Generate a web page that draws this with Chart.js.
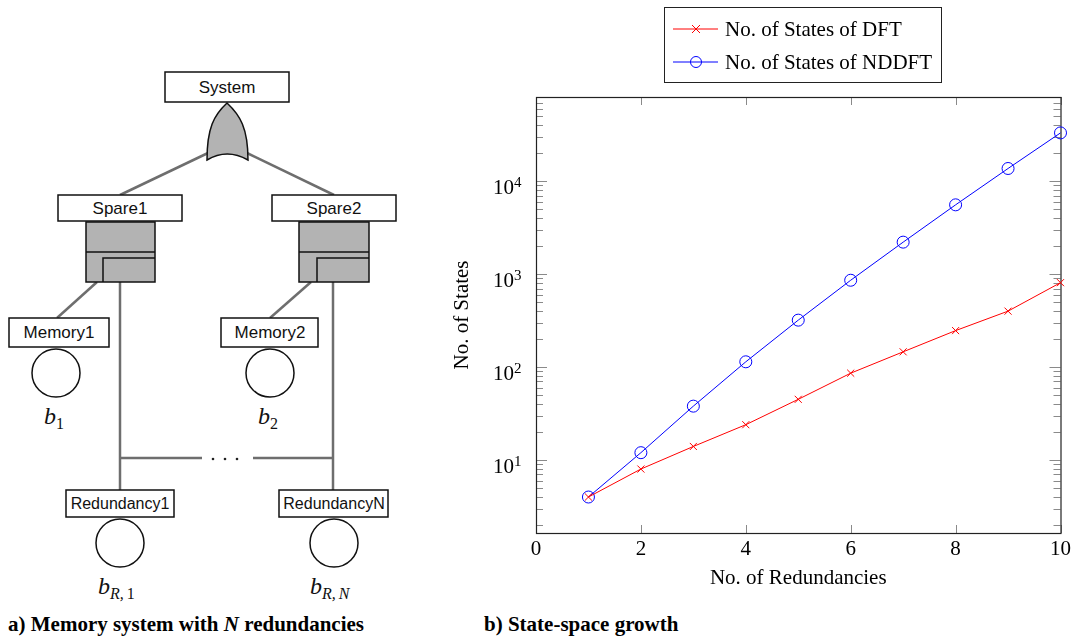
<!DOCTYPE html>
<html>
<head>
<meta charset="utf-8">
<script src="https://cdn.jsdelivr.net/npm/chart.js"></script>
<style>
  html, body { margin: 0; padding: 0; background: #fff; }
  #wrap { position: relative; width: 1075px; height: 637px; overflow: hidden; }
  #tree { position: absolute; left: 0; top: 0; }
  #statesChart { position: absolute; left: 440px; top: 0; }
  .cap { position: absolute; top: 612px; font: bold 21px "Liberation Serif", serif; white-space: nowrap; }
</style>
</head>
<body>
<div id="wrap">
  <!-- fault tree on the left -->
  <svg id="tree" width="440" height="637" viewBox="0 0 440 637">
    <g stroke="#6e6e6e" stroke-width="2.5" fill="none">
      <line x1="208" y1="153" x2="120" y2="195"/>
      <line x1="247" y1="153" x2="334" y2="195"/>
      <line x1="97" y1="282" x2="57" y2="318"/>
      <line x1="311" y1="282" x2="270" y2="318"/>
      <line x1="120" y1="282" x2="120" y2="490"/>
      <line x1="333" y1="282" x2="333" y2="490"/>
      <line x1="120" y1="458" x2="202" y2="458"/>
      <line x1="253" y1="458" x2="333" y2="458"/>
    </g>
    <g fill="#222">
      <circle cx="213" cy="459" r="1.3"/>
      <circle cx="225" cy="459" r="1.3"/>
      <circle cx="237" cy="459" r="1.3"/>
    </g>
    <g stroke="#111" stroke-width="1.5" fill="#fff">
      <rect x="165" y="72" width="124" height="30"/>
      <rect x="58" y="195" width="124" height="26"/>
      <rect x="272" y="195" width="124" height="26"/>
      <rect x="9" y="318" width="100" height="29"/>
      <rect x="221" y="318" width="97" height="29"/>
      <rect x="66" y="490" width="108" height="27"/>
      <rect x="279" y="490" width="109" height="27"/>
      <circle cx="56" cy="373" r="24"/>
      <circle cx="270" cy="373" r="24"/>
      <circle cx="120" cy="543" r="24"/>
      <circle cx="334" cy="543" r="24"/>
    </g>
    <g stroke="#111" stroke-width="1.5" fill="#b3b3b3">
      <path d="M207,160 C207,128 214,115 227,103 C240,115 248,128 248,160 Q227,148 207,160 Z"/>
      <rect x="86" y="222" width="69" height="60"/>
      <rect x="299" y="222" width="70" height="60"/>
    </g>
    <g stroke="#111" stroke-width="1.5" fill="none">
      <line x1="86" y1="252" x2="155" y2="252"/>
      <path d="M103,282 V258 H155"/>
      <line x1="299" y1="252" x2="369" y2="252"/>
      <path d="M317,282 V258 H369"/>
    </g>
    <g font-family="Liberation Sans, Arial, sans-serif" font-size="17" fill="#111" text-anchor="middle" dominant-baseline="central">
      <text x="227" y="87">System</text>
      <text x="120" y="208">Spare1</text>
      <text x="334" y="208">Spare2</text>
      <text x="59" y="332">Memory1</text>
      <text x="270" y="332">Memory2</text>
      <text x="120" y="503" font-size="16">Redundancy1</text>
      <text x="334" y="503" font-size="16">RedundancyN</text>
    </g>
    <g font-family="Liberation Serif, serif" font-style="italic" font-size="24" fill="#111">
      <text x="44" y="424">b<tspan font-style="normal" font-size="16" dy="5">1</tspan></text>
      <text x="258" y="424">b<tspan font-style="normal" font-size="16" dy="5">2</tspan></text>
      <text x="98" y="594">b<tspan font-size="16" dy="5">R</tspan><tspan font-size="16">,</tspan><tspan font-style="normal" font-size="16" dx="3">1</tspan></text>
      <text x="310" y="594">b<tspan font-size="16" dy="5">R</tspan><tspan font-size="16">,</tspan><tspan font-size="16" dx="3">N</tspan></text>
    </g>
  </svg>
  <canvas id="statesChart" width="635" height="600"></canvas>
  <div class="cap" style="left:8px">a) Memory system with <i>N</i> redundancies</div>
  <div class="cap" style="left:484px">b) State-space growth</div>
</div>
<script>
// data
const redundancies = [1, 2, 3, 4, 5, 6, 7, 8, 9, 10];
const statesDFT = [4, 8, 14, 24, 45, 86, 146, 247, 400, 810];
const statesNDDFT = [4, 12, 38, 114, 320, 860, 2210, 5570, 13700, 33100];

const xTicks = [0, 2, 4, 6, 8, 10];
const yMajorTicks = [10, 100, 1000, 10000];
const yExponents = ['1', '2', '3', '4'];
const legendLabels = ['No. of States of DFT', 'No. of States of NDDFT'];

const serif = '"Liberation Serif", "Times New Roman", serif';
const yMin = Math.pow(10, 0.215);
const yMax = Math.pow(10, 4.906);

function toPoints(ys) {
  return redundancies.map((x, i) => ({ x: x, y: ys[i] }));
}

function line(ctx, x1, y1, x2, y2) {
  ctx.beginPath();
  ctx.moveTo(x1, y1);
  ctx.lineTo(x2, y2);
  ctx.stroke();
}

// frame, inward ticks and the 10^n labels, pgfplots style
const frameTicks = {
  id: 'frameTicks',
  beforeDatasetsDraw(chart) {
    const { ctx, chartArea: a, scales: { x, y } } = chart;
    ctx.save();
    ctx.strokeStyle = '#8a8a8a';
    ctx.lineWidth = 1;
    xTicks.forEach(v => {
      const px = Math.round(x.getPixelForValue(v)) + 0.5;
      line(ctx, px, a.bottom, px, a.bottom - 8);
      line(ctx, px, a.top, px, a.top + 8);
    });
    for (let n = 0; n < 5; n++) {
      for (let k = 1; k < 10; k++) {
        const v = k * Math.pow(10, n);
        if (v < yMin || v > yMax) continue;
        const py = Math.round(y.getPixelForValue(v)) + 0.5;
        const len = k === 1 ? 11 : 7;
        line(ctx, a.left, py, a.left + len, py);
        line(ctx, a.right, py, a.right - len, py);
      }
    }
    ctx.strokeStyle = '#222';
    ctx.lineWidth = 1.2;
    ctx.strokeRect(a.left + 0.5, a.top + 0.5, a.right - a.left, a.bottom - a.top);

    ctx.fillStyle = '#000';
    ctx.textBaseline = 'alphabetic';
    yMajorTicks.forEach((v, i) => {
      const py = y.getPixelForValue(v);
      ctx.font = '21px ' + serif;
      ctx.textAlign = 'right';
      ctx.fillText('10', a.left - 22, py + 13);
      ctx.font = '15px ' + serif;
      ctx.textAlign = 'left';
      ctx.fillText(yExponents[i], a.left - 22, py + 6);
    });
    ctx.restore();
  },
  afterDraw(chart) {
    const { ctx } = chart;
    ctx.save();
    ctx.strokeStyle = '#222';
    ctx.lineWidth = 1;
    ctx.strokeRect(224.5, 7.5, 277, 75);
    chart.data.datasets.forEach((ds, i) => {
      const ly = 29 + i * 33;
      ctx.strokeStyle = ds.borderColor;
      ctx.lineWidth = 1;
      line(ctx, 233, ly, 278, ly);
      if (ds.pointStyle === 'crossRot') {
        line(ctx, 252, ly - 4, 260, ly + 4);
        line(ctx, 252, ly + 4, 260, ly - 4);
      } else {
        ctx.beginPath();
        ctx.arc(256, ly, 5.5, 0, Math.PI * 2);
        ctx.stroke();
      }
      ctx.fillStyle = '#000';
      ctx.font = '21px ' + serif;
      ctx.textAlign = 'left';
      ctx.textBaseline = 'middle';
      ctx.fillText(legendLabels[i], 285, ly + 1);
    });
    ctx.restore();
  }
};

const statesChart = new Chart(document.getElementById('statesChart'), {
  type: 'line',
  data: {
    datasets: [
      {
        label: legendLabels[0],
        data: toPoints(statesDFT),
        borderColor: '#ff0000',
        borderWidth: 1,
        pointStyle: 'crossRot',
        pointRadius: 5,
        pointBorderWidth: 1,
        pointBorderColor: '#ff0000',
        clip: false,
      },
      {
        label: legendLabels[1],
        data: toPoints(statesNDDFT),
        borderColor: '#0000ff',
        borderWidth: 1,
        pointStyle: 'circle',
        pointRadius: 6,
        pointBorderWidth: 1,
        pointBorderColor: '#0000ff',
        pointBackgroundColor: 'rgba(0,0,0,0)',
        clip: false,
      },
    ],
  },
  options: {
    responsive: false,
    animation: false,
    devicePixelRatio: 1,
    layout: { padding: { top: 97, right: 13, left: 0, bottom: 0 } },
    plugins: { legend: { display: false }, tooltip: { enabled: false } },
    scales: {
      x: {
        type: 'linear',
        min: 0,
        max: 10,
        afterBuildTicks: s => { s.ticks = xTicks.map(v => ({ value: v })); },
        afterFit: s => { s.height = 67; },
        grid: { display: false, drawTicks: false },
        border: { display: false },
        ticks: { color: '#000', font: { family: serif, size: 21 }, padding: 4, maxRotation: 0 },
        title: { display: true, text: 'No. of Redundancies', color: '#000', font: { family: serif, size: 21 }, padding: { top: 0, bottom: 9 } },
      },
      y: {
        type: 'logarithmic',
        min: yMin,
        max: yMax,
        afterFit: s => { s.width = 96; },
        grid: { display: false, drawTicks: false },
        border: { display: false },
        ticks: { display: false },
        title: { display: true, text: 'No. of States', color: '#000', font: { family: serif, size: 21 }, padding: { top: 10, bottom: 0 } },
      },
    },
  },
  plugins: [frameTicks],
});
</script>
</body>
</html>
